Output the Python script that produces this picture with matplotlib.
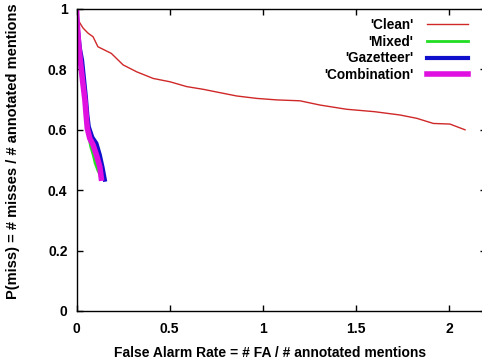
import matplotlib
matplotlib.use("Agg")
import matplotlib.pyplot as plt

plt.rcParams['font.family'] = ['Liberation Sans', 'DejaVu Sans']

# Data
clean_x = [0.0, 0.0, 0.017, 0.035, 0.062, 0.089, 0.115, 0.187, 0.25, 0.323, 0.412,
           0.502, 0.592, 0.681, 0.77, 0.86, 0.967, 1.075, 1.2, 1.307, 1.45, 1.6,
           1.737, 1.827, 1.916, 2.005, 2.086]
clean_y = [1.0, 0.975, 0.955, 0.937, 0.92, 0.908, 0.875, 0.853, 0.815, 0.792, 0.77,
           0.759, 0.743, 0.734, 0.723, 0.712, 0.704, 0.699, 0.696, 0.682, 0.668,
           0.66, 0.649, 0.638, 0.621, 0.619, 0.60]

mixed_x = [0.0, 0.003, 0.012, 0.024, 0.035, 0.046, 0.055, 0.065, 0.076, 0.09, 0.1,
           0.115, 0.128]
mixed_y = [1.0, 0.94, 0.87, 0.80, 0.74, 0.68, 0.62, 0.58, 0.545, 0.516, 0.49,
           0.465, 0.45]

gaz_x = [0.0, 0.006, 0.018, 0.03, 0.04, 0.05, 0.058, 0.066, 0.085, 0.107, 0.125,
         0.14, 0.152]
gaz_y = [1.0, 0.94, 0.87, 0.83, 0.77, 0.71, 0.65, 0.61, 0.575, 0.555, 0.517,
         0.475, 0.435]

comb_x = [0.0, 0.004, 0.012, 0.022, 0.033, 0.045, 0.053, 0.058, 0.071, 0.089,
          0.107, 0.125, 0.133]
comb_y = [1.0, 0.95, 0.88, 0.82, 0.76, 0.70, 0.64, 0.605, 0.572, 0.55, 0.517,
          0.478, 0.44]

labels = ["'Clean'", "'Mixed'", "'Gazetteer'", "'Combination'"]
xticks = [0, 0.5, 1, 1.5, 2]
xticklabels = ['0', '0.5', '1', '1.5', '2']
yticks = [0, 0.2, 0.4, 0.6, 0.8, 1]
yticklabels = ['0', '0.2', '0.4', '0.6', '0.8', '1']

fig = plt.figure(figsize=(4.82, 3.64), dpi=100)
W, H = 482, 364
x0, x1 = 76.5, 76.5 + 2.2 * 186.25
y0, y1 = 311, 9
ax = fig.add_axes([x0 / W, (H - y0) / H, (x1 - x0) / W, (y0 - y1) / H])

ax.plot(clean_x, clean_y, color='#d02828', lw=1.0, label=labels[0])
ax.plot(mixed_x, mixed_y, color='#22dd22', lw=2.0, label=labels[1])
ax.plot(gaz_x, gaz_y, color='#1010cc', lw=3.0, label=labels[2])
ax.plot(comb_x, comb_y, color='#e010e0', lw=4.0, label=labels[3])

ax.set_xlim(0, 2.2)
ax.set_ylim(0, 1)
ax.set_xticks(xticks)
ax.set_xticklabels(xticklabels)
ax.set_yticks(yticks)
ax.set_yticklabels(yticklabels)
ax.tick_params(direction='in', length=4.5, width=1, top=True, right=True,
               labelsize=10)
ax.tick_params(axis='x', pad=8)
ax.tick_params(axis='y', pad=6.5)
for lab in ax.get_xticklabels() + ax.get_yticklabels():
    lab.set_fontweight('bold')
for s in ax.spines.values():
    s.set_linewidth(1.0)

ax.set_xlabel('False Alarm Rate = # FA / # annotated mentions', fontsize=10,
              fontweight='bold')
ax.set_ylabel('P(miss) = # misses / # annotated mentions', fontsize=10.5,
              fontweight='bold')
ax.xaxis.set_label_coords(0.472, -0.115)
ax.yaxis.set_label_coords(-0.138, 0.53)

leg = fig.legend(loc='upper right', bbox_to_anchor=(468 / W, 1 - 18 / H),
                 frameon=False, markerfirst=False, fontsize=9.8,
                 handlelength=3.0, handletextpad=1.0, labelspacing=0.2,
                 borderpad=0, borderaxespad=0)
for t in leg.get_texts():
    t.set_fontweight('bold')

fig.savefig('out.png', dpi=100)
